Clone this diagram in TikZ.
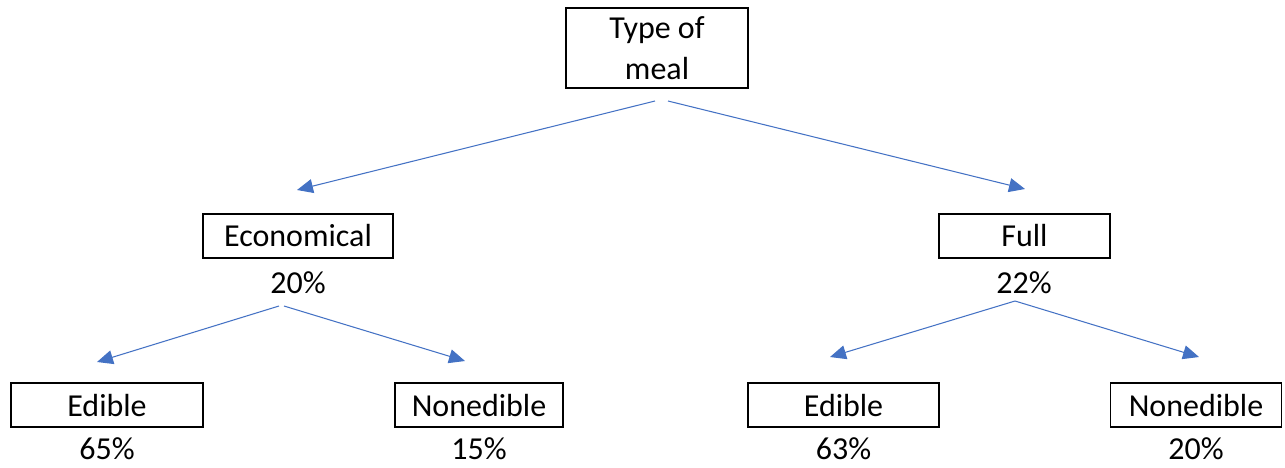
\documentclass[tikz,border=0pt]{standalone}
\usepackage{fontspec}
\setmainfont{Carlito}
\usetikzlibrary{arrows.meta}
\definecolor{arrowblue}{HTML}{4472C4}
\tikzset{
  box/.style={draw, line width=1.1pt, minimum height=0.88cm, inner sep=0pt, font=\fontsize{18.2}{23}\selectfont},
  pct/.style={font=\fontsize{18.2}{23}\selectfont, inner sep=0pt},
  link/.style={draw=arrowblue, line width=0.6pt, -{Triangle[length=0.32cm,width=0.28cm]}, arrowblue}
}
\begin{document}
\begin{tikzpicture}
	\useasboundingbox (0,0) rectangle (25.7,9.34);
	% boxes
	\node[box, minimum width=3.64cm, minimum height=1.6cm, align=center] (meal) at (13.14,8.38) {Type of\\meal};
	\node[box, minimum width=3.8cm] (econ) at (5.96,4.62) {Economical};
	\node[pct] (econpct) at (5.96,3.68) {20\%};
	\node[box, minimum width=3.42cm] (full) at (20.49,4.62) {Full};
	\node[pct] (fullpct) at (20.48,3.68) {22\%};
	\node[box, minimum width=3.84cm] (edl) at (2.14,1.24) {Edible};
	\node[pct] (edlpct) at (2.14,0.36) {65\%};
	\node[box, minimum width=3.36cm] (nonl) at (9.58,1.24) {Nonedible};
	\node[pct] (nonlpct) at (9.58,0.36) {15\%};
	\node[box, minimum width=3.82cm] (edr) at (16.87,1.24) {Edible};
	\node[pct] (edrpct) at (16.87,0.36) {63\%};
	\node[box, minimum width=3.42cm] (nonr) at (23.92,1.24) {Nonedible};
	\node[pct] (nonrpct) at (23.92,0.36) {20\%};
	% arrow ends
	\coordinate (mealL) at (13.10,7.32);
	\coordinate (mealR) at (13.36,7.32);
	\coordinate (econT) at (5.94,5.54);
	\coordinate (fullT) at (20.50,5.56);
	\coordinate (econL) at (5.58,3.22);
	\coordinate (econR) at (5.68,3.22);
	\coordinate (edlT) at (1.94,2.10);
	\coordinate (nonlT) at (9.30,2.12);
	\coordinate (fullB) at (20.30,3.32);
	\coordinate (edrT) at (16.60,2.20);
	\coordinate (nonrT) at (23.98,2.20);
	% arrows
	\draw[link] (mealL) -- (econT);
	\draw[link] (mealR) -- (fullT);
	\draw[link] (econL) -- (edlT);
	\draw[link] (econR) -- (nonlT);
	\draw[link] (fullB) -- (edrT);
	\draw[link] (fullB) -- (nonrT);
\end{tikzpicture}
\end{document}
